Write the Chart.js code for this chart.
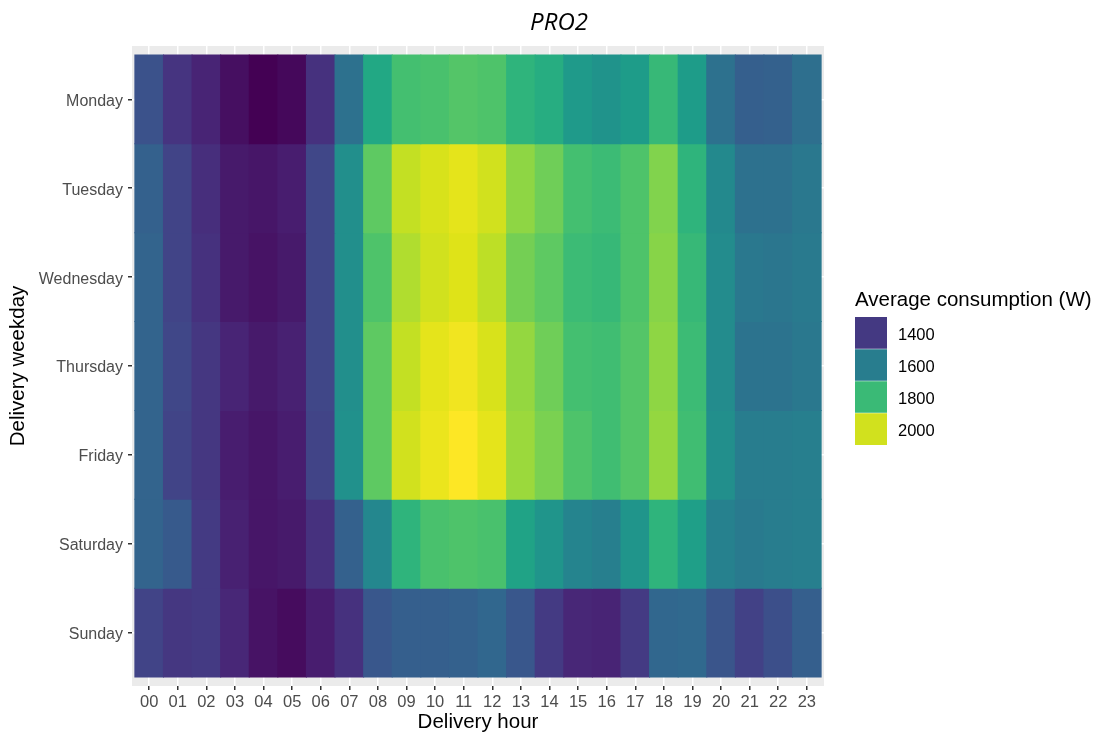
<!DOCTYPE html>
<html>
<head>
<meta charset="utf-8">
<title>PRO2</title>
<script src="https://cdn.jsdelivr.net/npm/chart.js@4/dist/chart.umd.min.js"></script>
<style>
  html, body { margin: 0; padding: 0; background: #fff; }
  canvas { display: block; }
</style>
</head>
<body>
<canvas id="heatmap" width="1102" height="740"></canvas>
<script>
// --- Data (average consumption in W) ---
const HOURS = ['00','01','02','03','04','05','06','07','08','09','10','11',
               '12','13','14','15','16','17','18','19','20','21','22','23'];
const WEEKDAYS = ['Monday','Tuesday','Wednesday','Thursday','Friday','Saturday','Sunday'];

const monday    = [1466,1388,1349,1301,1270,1286,1380,1560,1741,1820,1827,1843,1835,1780,1757,1694,1670,1702,1796,1702,1560,1506,1513,1553];
const tuesday   = [1513,1427,1372,1325,1317,1333,1435,1655,1859,1984,2008,2024,2000,1922,1882,1820,1804,1835,1906,1780,1639,1560,1560,1584];
const wednesday = [1521,1427,1380,1325,1309,1325,1435,1655,1835,1961,2000,2016,1977,1890,1859,1804,1796,1835,1914,1796,1647,1584,1576,1592];
const thursday  = [1521,1435,1396,1349,1325,1341,1435,1655,1859,1984,2024,2039,2008,1929,1882,1820,1812,1843,1922,1804,1647,1568,1568,1584];
const friday    = [1521,1427,1396,1333,1317,1333,1427,1663,1859,2000,2031,2055,2024,1937,1898,1835,1812,1843,1929,1812,1655,1600,1600,1608];
const saturday  = [1521,1490,1403,1341,1317,1325,1380,1513,1631,1780,1827,1835,1827,1725,1678,1623,1608,1678,1780,1710,1615,1592,1600,1608];
const sunday    = [1427,1396,1403,1356,1309,1294,1333,1380,1482,1506,1506,1513,1529,1482,1403,1356,1349,1403,1529,1537,1474,1419,1458,1506];

const SERIES = [monday, tuesday, wednesday, thursday, friday, saturday, sunday];
const LEGEND_BREAKS = [1400, 1600, 1800, 2000];
const FILL_MIN = 1270;
const FILL_MAX = 2055;

// --- viridis colour scale ---
const VIRIDIS = ['#440154','#471365','#482475','#463480','#414487','#3B528B','#355F8D',
                 '#2F6C8E','#2A788E','#25848E','#21918C','#1E9C89','#22A884','#2FB47C',
                 '#44BF70','#5EC962','#7AD151','#9BD93C','#BDDF26','#DFE318','#FDE725'];

function hexToRgb(h) {
    return [parseInt(h.slice(1, 3), 16), parseInt(h.slice(3, 5), 16), parseInt(h.slice(5, 7), 16)];
}

function viridis(value) {
    let t = (value - FILL_MIN) / (FILL_MAX - FILL_MIN);
    t = Math.max(0, Math.min(1, t));
    const p = t * (VIRIDIS.length - 1);
    const i = Math.min(Math.floor(p), VIRIDIS.length - 2);
    const f = p - i;
    const a = hexToRgb(VIRIDIS[i]), b = hexToRgb(VIRIDIS[i + 1]);
    const c = a.map((v, k) => Math.round(v + (b[k] - v) * f));
    return `rgb(${c[0]},${c[1]},${c[2]})`;
}

// --- fonts / colours ---
const FONT = "'Liberation Sans', Arial, sans-serif";
const AXIS_TEXT = '#4D4D4D';

// --- grey panel behind the tiles ---
const panelBackground = {
    id: 'panelBackground',
    beforeDraw(chart) {
        const { ctx, chartArea: a } = chart;
        ctx.save();
        ctx.fillStyle = '#EBEBEB';
        ctx.fillRect(a.left, a.top, a.right - a.left, a.bottom - a.top);
        ctx.restore();
    }
};

// --- title + binned legend ---
const decorations = {
    id: 'decorations',
    afterDraw(chart) {
        const ctx = chart.ctx;
        ctx.save();
        // title
        ctx.fillStyle = '#000';
        ctx.font = "italic 24px 'Open Sans', sans-serif";
        ctx.textAlign = 'center';
        ctx.textBaseline = 'alphabetic';
        ctx.fillText('PRO2', 559, 30);

        // legend
        ctx.textAlign = 'left';
        ctx.font = `20.5px ${FONT}`;
        ctx.fillText('Average consumption (W)', 855, 306);

        const keyX = 855, keyY = 317, keySize = 32;
        ctx.font = `16.5px ${FONT}`;
        LEGEND_BREAKS.forEach((b, k) => {
            const y = keyY + k * keySize;
            ctx.fillStyle = viridis(b);
            ctx.fillRect(keyX, y, keySize, keySize);
            ctx.fillStyle = '#000';
            ctx.fillText(String(b), 898, y + keySize / 2 + 6.5);
        });
        ctx.strokeStyle = 'rgba(255,255,255,0.6)';
        ctx.lineWidth = 0.8;
        for (let k = 1; k < LEGEND_BREAKS.length; k++) {
            ctx.beginPath();
            ctx.moveTo(keyX, keyY + k * keySize);
            ctx.lineTo(keyX + keySize, keyY + k * keySize);
            ctx.stroke();
        }
        ctx.restore();
    }
};

// --- one dataset per weekday, each tile a floating bar ---
const datasets = WEEKDAYS.map((day, i) => ({
    label: day,
    data: SERIES[i].map((v, h) => ({ x: h, y: [WEEKDAYS.length - 1 - i, WEEKDAYS.length - i], value: v })),
    backgroundColor: SERIES[i].map(v => viridis(v)),
    borderWidth: 0,
    grouped: false,
    barPercentage: 1,
    categoryPercentage: 1,
    inflateAmount: 0.5
}));

const ctx = document.getElementById('heatmap').getContext('2d');
const heatmap = new Chart(ctx, {
    type: 'bar',
    data: { datasets },
    options: {
        responsive: false,
        animation: false,
        layout: { padding: { top: 46, right: 278, bottom: 0, left: 0 } },
        plugins: {
            legend: { display: false },
            title: { display: false },
            tooltip: {
                callbacks: {
                    title: (items) => `${items[0].dataset.label} ${HOURS[items[0].raw.x]}h`,
                    label: (item) => `${item.raw.value} W`
                }
            }
        },
        scales: {
            x: {
                type: 'linear',
                min: -0.6,
                max: 23.6,
                offset: false,
                afterBuildTicks: (scale) => { scale.ticks = HOURS.map((h, i) => ({ value: i })); },
                afterFit: (scale) => { scale.height = 54; },
                ticks: {
                    autoSkip: false,
                    maxRotation: 0,
                    padding: 3,
                    color: AXIS_TEXT,
                    font: { family: FONT, size: 16.5 },
                    callback: (value) => HOURS[value]
                },
                grid: {
                    offset: false,
                    color: '#FFFFFF',
                    lineWidth: 1.5,
                    tickColor: '#333333',
                    tickLength: 4,
                    tickWidth: 1.5
                },
                border: { display: false },
                title: {
                    display: true,
                    text: 'Delivery hour',
                    color: '#000',
                    font: { family: FONT, size: 20.5 },
                    padding: { top: 0, bottom: 5 }
                }
            },
            y: {
                type: 'linear',
                min: -0.1,
                max: 7.1,
                afterBuildTicks: (scale) => {
                    scale.ticks = WEEKDAYS.map((d, i) => ({ value: WEEKDAYS.length - 0.5 - i }));
                },
                afterFit: (scale) => { scale.width = 132; },
                ticks: {
                    padding: 5,
                    labelOffset: 2,
                    color: AXIS_TEXT,
                    font: { family: FONT, size: 16 },
                    callback: (value) => WEEKDAYS[Math.round(WEEKDAYS.length - 0.5 - value)]
                },
                grid: {
                    color: '#FFFFFF',
                    lineWidth: 1.5,
                    tickColor: '#333333',
                    tickLength: 4,
                    tickWidth: 1.5
                },
                border: { display: false },
                title: {
                    display: true,
                    text: 'Delivery weekday',
                    color: '#000',
                    font: { family: FONT, size: 20.5 },
                    padding: { top: 6, bottom: 0 }
                }
            }
        }
    },
    plugins: [panelBackground, decorations]
});
</script>
</body>
</html>
